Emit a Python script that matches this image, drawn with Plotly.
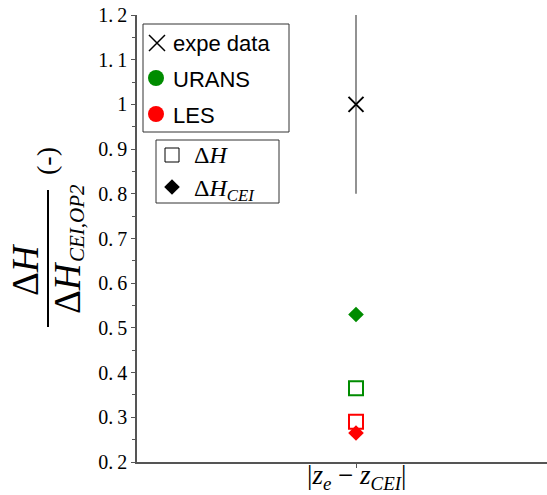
import plotly.graph_objects as go

# ---------------- data ----------------
categories = ["dz"]
x_tick_labels = ["|<i>z</i><sub><i>e</i></sub> − <i>z</i><sub><i>CEI</i></sub>|"]
expe_values = [1.0]
expe_errors = [0.2]
urans_dH = [0.365]
urans_dH_cei = [0.53]
les_dH = [0.29]
les_dH_cei = [0.265]
y_tick_values = [0.2, 0.3, 0.4, 0.5, 0.6, 0.7, 0.8, 0.9, 1.0, 1.1, 1.2]
y_tick_labels = ["0.\u20092", "0.\u20093", "0.\u20094", "0.\u20095", "0.\u20096", "0.\u20097",
                 "0.\u20098", "0.\u20099", "1", "1.\u20091", "1.\u20092"]

GREEN = "#008c00"
RED = "#ff0000"
SERIF = "Liberation Serif"
SANS = "Liberation Sans"

W, H = 547, 495
PL, PR, PT, PB = 137, 547, 15, 462   # plot area in page pixels
PW, PH = PR - PL, PB - PT


def px(x):
    return (x - PL) / PW


def py(y):
    return (PB - y) / PH


fig = go.Figure()

# experimental data with error bar
fig.add_trace(go.Scatter(
    x=categories, y=expe_values, mode="markers",
    error_y=dict(type="data", array=expe_errors, color="#6e6e6e", thickness=1.5, width=0),
    marker=dict(symbol="x-thin-open", size=15, color="black", line=dict(color="black", width=2)),
    showlegend=False, cliponaxis=False,
))
# URANS
fig.add_trace(go.Scatter(x=categories, y=urans_dH_cei, mode="markers",
                         marker=dict(symbol="diamond", size=12, color=GREEN),
                         showlegend=False, cliponaxis=False))
fig.add_trace(go.Scatter(x=categories, y=urans_dH, mode="markers",
                         marker=dict(symbol="square-open", size=14, color=GREEN,
                                     line=dict(color=GREEN, width=2)),
                         showlegend=False, cliponaxis=False))
# LES
fig.add_trace(go.Scatter(x=categories, y=les_dH, mode="markers",
                         marker=dict(symbol="square-open", size=14, color=RED,
                                     line=dict(color=RED, width=2)),
                         showlegend=False, cliponaxis=False))
fig.add_trace(go.Scatter(x=categories, y=les_dH_cei, mode="markers",
                         marker=dict(symbol="diamond", size=12, color=RED),
                         showlegend=False, cliponaxis=False))

# ---------------- manual legends (pixel overlay axes) ----------------
leg_sym_x = [157, 156, 156, 172, 172]
leg_sym_y = [43, 78, 114, 155, 187]
leg_sym = ["x-thin-open", "circle", "circle", "square-open", "diamond"]
leg_col = ["black", GREEN, RED, "black", "black"]
leg_size = [16, 16, 16, 14, 12]
fig.add_trace(go.Scatter(
    x=leg_sym_x, y=leg_sym_y, xaxis="x2", yaxis="y2", mode="markers",
    marker=dict(symbol=leg_sym, size=leg_size, color=leg_col, opacity=1,
                line=dict(color=leg_col, width=[1.5, 0, 0, 1, 0])),
    showlegend=False, hoverinfo="skip", cliponaxis=False,
))

shapes = [
    dict(type="rect", xref="x2", yref="y2", x0=143, x1=289, y0=24, y1=132,
         line=dict(color="#333", width=1), fillcolor="white", layer="below"),
    dict(type="rect", xref="x2", yref="y2", x0=156, x1=279, y0=140, y1=203,
         line=dict(color="#333", width=1), fillcolor="white", layer="below"),
    # fraction bar of the y title
    dict(type="line", xref="paper", yref="paper", x0=px(48), x1=px(48), y0=py(190), y1=py(327),
         line=dict(color="black", width=2)),
]

annotations = []
for txt, yy in [("expe data", 43), ("URANS", 79), ("LES", 115)]:
    annotations.append(dict(text=txt, xref="x2", yref="y2", x=171, y=yy, xanchor="left",
                            yanchor="middle", showarrow=False,
                            font=dict(family=SANS, size=22, color="black")))
annotations.append(dict(text="Δ<i>H</i>", xref="x2", yref="y2", x=192, y=155, xanchor="left",
                        yanchor="middle", showarrow=False,
                        font=dict(family=SERIF, size=24, color="black")))
annotations.append(dict(text="Δ<i>H</i><sub><i>CEI</i></sub>", xref="x2", yref="y2", x=192, y=190,
                        xanchor="left", yanchor="middle", showarrow=False,
                        font=dict(family=SERIF, size=24, color="black")))

# y-axis title as a rotated fraction
annotations.append(dict(text="Δ<i>H</i>", xref="paper", yref="paper", x=px(25), y=py(269),
                        xanchor="center", yanchor="middle", textangle=-90, showarrow=False,
                        font=dict(family=SERIF, size=37, color="black")))
annotations.append(dict(text="Δ<i>H</i>", xref="paper", yref="paper", x=px(67), y=py(288),
                        xanchor="center", yanchor="middle", textangle=-90, showarrow=False,
                        font=dict(family=SERIF, size=37, color="black")))
annotations.append(dict(text="<i>CEI,OP2</i>", xref="paper", yref="paper", x=px(77), y=py(223),
                        xanchor="center", yanchor="middle", textangle=-90, showarrow=False,
                        font=dict(family=SERIF, size=21, color="black")))
annotations.append(dict(text="(-)", xref="paper", yref="paper", x=px(46), y=py(161),
                        xanchor="center", yanchor="middle", textangle=-90, showarrow=False,
                        font=dict(family=SERIF, size=28, color="black")))

# x category label
annotations.append(dict(text=x_tick_labels[0], xref="x", yref="paper", x=categories[0], y=py(477),
                        xanchor="center", yanchor="middle", showarrow=False,
                        font=dict(family=SERIF, size=27, color="black")))

frac = (356 - PL) / PW

fig.update_layout(
    width=W, height=H,
    margin=dict(l=PL, r=W - PR, t=PT, b=H - PB, pad=0),
    paper_bgcolor="white", plot_bgcolor="white",
    showlegend=False,
    shapes=shapes, annotations=annotations,
    xaxis=dict(type="category", range=[-frac, 1 - frac], showgrid=False, zeroline=False,
               showline=True, linecolor="#555", linewidth=1.5,
               ticks="outside", ticklen=4, tickcolor="#555", tickwidth=1,
               tickvals=categories, ticktext=[""],
               tickfont=dict(family=SERIF, size=22, color="black")),
    yaxis=dict(range=[0.2, 1.2], showgrid=False, zeroline=False,
               showline=True, linecolor="#555", linewidth=1.5,
               ticks="outside", ticklen=4, tickcolor="#555", tickwidth=1.2,
               tickvals=y_tick_values, ticktext=y_tick_labels, ticklabeloverflow="allow",
               tickfont=dict(family=SERIF, size=20, color="black"),
               minor=dict(dtick=0.05, ticks="outside", ticklen=3, tickcolor="#555")),
    xaxis2=dict(overlaying="x", range=[PL, PR], visible=False, fixedrange=True),
    yaxis2=dict(overlaying="y", range=[PB, PT], visible=False, fixedrange=True),
)

fig.write_html("out.html", config={"displayModeBar": False},
               post_script="document.body.style.margin='0';")
